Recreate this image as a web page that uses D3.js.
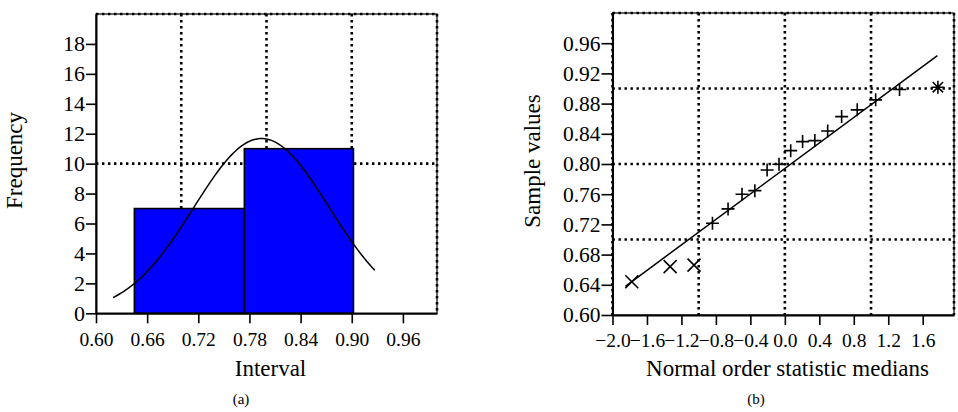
<!DOCTYPE html>
<html>
<head>
<meta charset="utf-8">
<script src="https://cdn.jsdelivr.net/npm/d3@7"></script>
<style>
  html, body { margin: 0; padding: 0; background: #fff; }
  svg { display: block; }
  text { font-family: "Liberation Serif", "Times New Roman", serif; fill: #000; }
</style>
</head>
<body>
<svg id="chart" width="958" height="412"></svg>
<script>
// ---------------- data ----------------
// (a) histogram
const histEdges = [0.645, 0.774, 0.902];
const histCounts = [7, 11];
const histXTicks = [0.60, 0.66, 0.72, 0.78, 0.84, 0.90, 0.96];
const histYTicks = [0, 2, 4, 6, 8, 10, 12, 14, 16, 18];
const histGridX = [0.70, 0.80, 0.90];
const histGridY = [10];
const curveRange = [0.620, 0.927];

// (b) normal probability plot
const orderMedians = [-1.776, -1.331, -1.054, -0.840, -0.659, -0.497, -0.348, -0.206, -0.068,
                      0.068, 0.206, 0.348, 0.497, 0.659, 0.840, 1.054, 1.331, 1.776];
const sampleValues = [0.644, 0.664, 0.666, 0.7215, 0.7405, 0.760, 0.7647, 0.792, 0.7997,
                      0.8177, 0.8297, 0.831, 0.8438, 0.8628, 0.8717, 0.885, 0.8986, 0.9017];
const markerTypes = ["x", "x", "x", "+", "+", "+", "+", "+", "+",
                     "+", "+", "+", "+", "+", "+", "+", "+", "*"];
const qqXTicks = [-2.0, -1.6, -1.2, -0.8, -0.4, 0.0, 0.4, 0.8, 1.2, 1.6];
const qqYTicks = [0.60, 0.64, 0.68, 0.72, 0.76, 0.80, 0.84, 0.88, 0.92, 0.96];
const qqGridX = [-1.0, 0.0, 1.0];
const qqGridY = [0.70, 0.80, 0.90];
const fitRange = [-1.85, 1.77];

// ---------------- drawing ----------------
const svg = d3.select("#chart");
const dotStyle = sel => sel.attr("stroke", "#000").attr("stroke-width", 2.6)
  .attr("stroke-dasharray", "2.4,3.6").attr("fill", "none");

function frame(g, x0, x1, y0, y1, dotSides) {
  g.append("rect").attr("x", x0).attr("y", y0).attr("width", x1 - x0).attr("height", y1 - y0)
    .attr("fill", "none").attr("stroke", "#000").attr("stroke-width", 1.2);
  if (dotSides.includes("top")) g.append("line").attr("x1", x0).attr("x2", x1).attr("y1", y0).attr("y2", y0).call(dotStyle);
  if (dotSides.includes("right")) g.append("line").attr("x1", x1).attr("x2", x1).attr("y1", y0).attr("y2", y1).call(dotStyle);
  if (dotSides.includes("left")) g.append("line").attr("x1", x0).attr("x2", x0).attr("y1", y0).attr("y2", y1).call(dotStyle);
}

function styleAxis(g, fontSize) {
  g.select(".domain").attr("stroke", "#000").attr("stroke-width", 2);
  g.selectAll(".tick line").attr("stroke", "#000").attr("stroke-width", 1.6);
  g.selectAll(".tick text").attr("font-size", fontSize).attr("font-family", "Liberation Serif, Times New Roman, serif").attr("fill", "#000");
}

// ===== (a) =====
{
  const x = d3.scaleLinear().domain([0.6, 1.0]).range([96, 437]);
  const y = d3.scaleLinear().domain([0, 20]).range([313.3, 14]);
  const g = svg.append("g");

  // grid
  g.selectAll(".gx").data(histGridX).enter().append("line")
    .attr("x1", d => x(d)).attr("x2", d => x(d)).attr("y1", y.range()[1]).attr("y2", y.range()[0]).call(dotStyle);
  g.selectAll(".gy").data(histGridY).enter().append("line")
    .attr("y1", d => y(d)).attr("y2", d => y(d)).attr("x1", x.range()[0]).attr("x2", x.range()[1]).call(dotStyle);

  // bars
  g.selectAll(".bar").data(histCounts).enter().append("rect")
    .attr("x", (d, i) => x(histEdges[i]))
    .attr("width", (d, i) => x(histEdges[i + 1]) - x(histEdges[i]))
    .attr("y", d => y(d))
    .attr("height", d => y(0) - y(d))
    .attr("fill", "#0000ff").attr("stroke", "#000").attr("stroke-width", 1.6);

  // fitted normal curve from sample statistics
  const n = sampleValues.length;
  const mu = d3.mean(sampleValues);
  const sd = d3.deviation(sampleValues) * Math.sqrt((n - 1) / n);
  const bw = histEdges[1] - histEdges[0];
  const pdf = v => n * bw * Math.exp(-0.5 * ((v - mu) / sd) ** 2) / (sd * Math.sqrt(2 * Math.PI));
  const xs = d3.range(0, 101).map(i => curveRange[0] + (curveRange[1] - curveRange[0]) * i / 100);
  g.append("path").datum(xs)
    .attr("d", d3.line().x(v => x(v)).y(v => y(pdf(v))))
    .attr("fill", "none").attr("stroke", "#000").attr("stroke-width", 1.5);

  frame(g, 96, 437, 14, 313.3, ["top", "right"]);

  const ax = g.append("g").attr("transform", "translate(0,313.3)")
    .call(d3.axisBottom(x).tickValues(histXTicks).tickFormat(d3.format(".2f")).tickSize(10).tickPadding(9).tickSizeOuter(0));
  styleAxis(ax, 19.5);
  const ay = g.append("g").attr("transform", "translate(96,0)")
    .call(d3.axisLeft(y).tickValues(histYTicks).tickFormat(d3.format("d")).tickSize(10).tickPadding(1).tickSizeOuter(0));
  styleAxis(ay, 22);

  g.append("text").attr("x", 270.5).attr("y", 376).attr("text-anchor", "middle").attr("font-size", 23).text("Interval");
  g.append("text").attr("transform", "translate(22,160.5) rotate(-90)").attr("text-anchor", "middle").attr("font-size", 23).text("Frequency");
  g.append("text").attr("x", 241).attr("y", 404).attr("text-anchor", "middle").attr("font-size", 15).text("(a)");
}

// ===== (b) =====
{
  const x = d3.scaleLinear().domain([-2.0, 1.963]).range([612.5, 954]);
  const y = d3.scaleLinear().domain([0.6, 1.0]).range([315, 13]);
  const g = svg.append("g");

  g.selectAll(".gx").data(qqGridX).enter().append("line")
    .attr("x1", d => x(d)).attr("x2", d => x(d)).attr("y1", y.range()[1]).attr("y2", y.range()[0]).call(dotStyle);
  g.selectAll(".gy").data(qqGridY).enter().append("line")
    .attr("y1", d => y(d)).attr("y2", d => y(d)).attr("x1", x.range()[0]).attr("x2", x.range()[1]).call(dotStyle);

  frame(g, 612.5, 954, 13, 315, ["top", "right", "left"]);

  // least-squares fit line
  const mx = d3.mean(orderMedians), my = d3.mean(sampleValues);
  const sxy = d3.sum(orderMedians, (v, i) => (v - mx) * (sampleValues[i] - my));
  const sxx = d3.sum(orderMedians, v => (v - mx) ** 2);
  const slope = sxy / sxx, icpt = my - slope * mx;
  g.append("line")
    .attr("x1", x(fitRange[0])).attr("y1", y(icpt + slope * fitRange[0]))
    .attr("x2", x(fitRange[1])).attr("y2", y(icpt + slope * fitRange[1]))
    .attr("stroke", "#000").attr("stroke-width", 1.5);

  // markers
  const r = 6.5;
  const pts = orderMedians.map((v, i) => ({ px: x(v), py: y(sampleValues[i]), t: markerTypes[i] }));
  const mg = g.append("g").attr("stroke", "#000").attr("stroke-width", 1.6).attr("fill", "none");
  pts.forEach(p => {
    let d = "";
    if (p.t === "+" || p.t === "*") d += `M${p.px - r},${p.py}H${p.px + r}M${p.px},${p.py - r}V${p.py + r}`;
    if (p.t === "x" || p.t === "*") {
      const q = p.t === "*" ? r * 0.8 : r;
      d += `M${p.px - q},${p.py - q}L${p.px + q},${p.py + q}M${p.px - q},${p.py + q}L${p.px + q},${p.py - q}`;
    }
    mg.append("path").attr("d", d);
  });

  const ax = g.append("g").attr("transform", "translate(0,315)")
    .call(d3.axisBottom(x).tickValues(qqXTicks).tickFormat(d3.format(".1f")).tickSize(10).tickPadding(8).tickSizeOuter(0));
  styleAxis(ax, 19.5);
  const ay = g.append("g").attr("transform", "translate(612.5,0)")
    .call(d3.axisLeft(y).tickValues(qqYTicks).tickFormat(d3.format(".2f")).tickSize(11).tickPadding(1).tickSizeOuter(0));
  styleAxis(ay, 21.5);

  g.append("text").attr("x", 787.5).attr("y", 376).attr("text-anchor", "middle").attr("font-size", 23).text("Normal order statistic medians");
  g.append("text").attr("transform", "translate(540,161) rotate(-90)").attr("text-anchor", "middle").attr("font-size", 23).text("Sample values");
  g.append("text").attr("x", 756).attr("y", 404).attr("text-anchor", "middle").attr("font-size", 15).text("(b)");
}
</script>
</body>
</html>
